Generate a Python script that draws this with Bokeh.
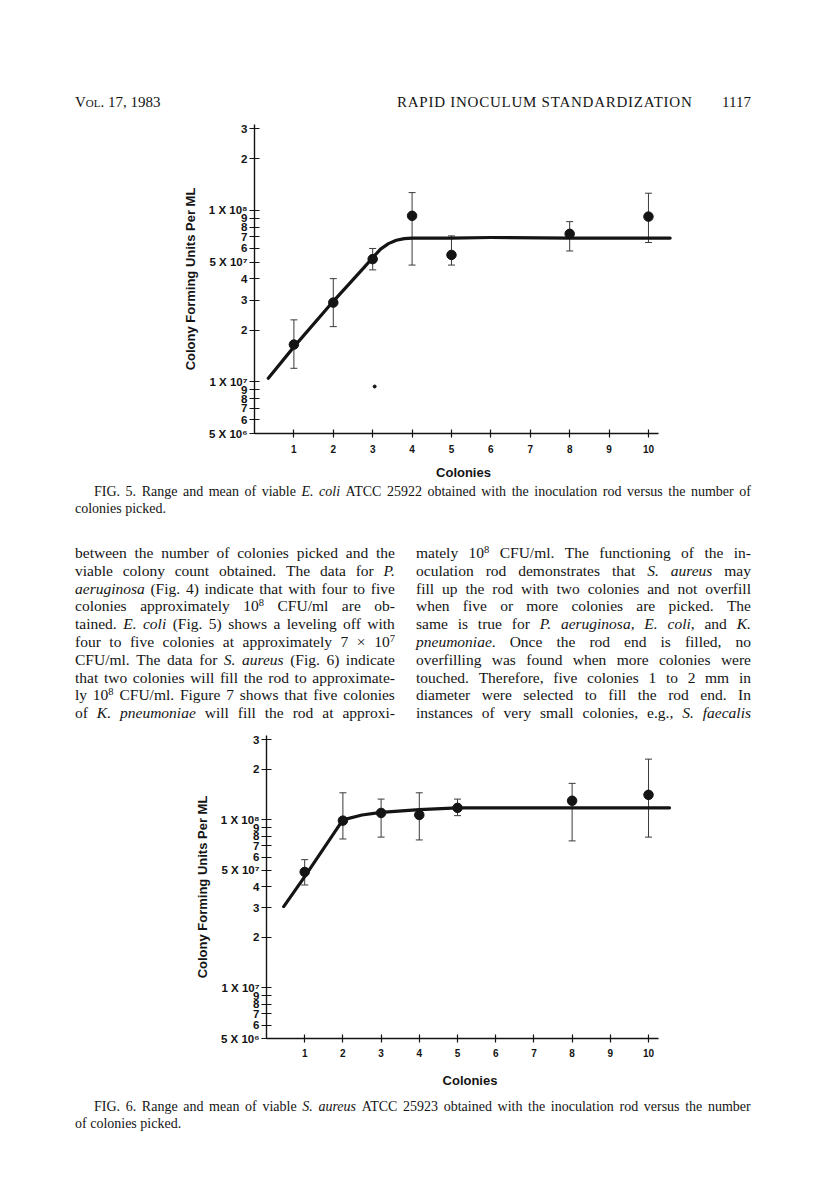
from bokeh.plotting import figure
from bokeh.layouts import column
from bokeh.models import Div, FixedTicker, Range1d, ColumnDataSource, Whisker, TeeHead
from bokeh.embed import file_html
from bokeh.resources import INLINE

# ---------------- data ----------------
colonies = [1, 2, 3, 4, 5, 8, 10]

ecoli_mean = [1.65e7, 2.9e7, 5.2e7, 9.3e7, 5.5e7, 7.3e7, 9.2e7]
ecoli_high = [2.3e7, 4.0e7, 6.0e7, 1.27e8, 7.1e7, 8.6e7, 1.26e8]
ecoli_low = [1.2e7, 2.1e7, 4.5e7, 4.8e7, 4.8e7, 5.8e7, 6.5e7]
ecoli_curve_x = [0.35, 1.0, 2.0, 2.8, 3.0, 3.2, 3.4, 3.6, 3.8, 4.0, 5.0, 6.0, 8.0, 10.55]
ecoli_curve_y = [1.05e7, 1.6e7, 2.95e7, 4.7e7, 5.3e7, 5.95e7, 6.4e7, 6.7e7, 6.85e7, 6.9e7, 6.9e7, 6.95e7, 6.9e7, 6.9e7]
speck_x = [3.05]
speck_y = [9.4e6]

saureus_mean = [4.9e7, 9.9e7, 1.1e8, 1.07e8, 1.18e8, 1.30e8, 1.41e8]
saureus_high = [5.8e7, 1.45e8, 1.33e8, 1.45e8, 1.33e8, 1.65e8, 2.3e8]
saureus_low = [4.1e7, 7.7e7, 7.9e7, 7.6e7, 1.06e8, 7.5e7, 7.9e7]
saureus_curve_x = [0.45, 1.0, 2.0, 2.5, 3.0, 4.0, 5.0, 7.0, 10.55]
saureus_curve_y = [3.05e7, 4.6e7, 1.0e8, 1.07e8, 1.11e8, 1.15e8, 1.18e8, 1.18e8, 1.18e8]

x_ticks = [1, 2, 3, 4, 5, 6, 7, 8, 9, 10]
y_ticks = [5e6, 6e6, 7e6, 8e6, 9e6, 1e7, 2e7, 3e7, 4e7, 5e7, 6e7, 7e7, 8e7, 9e7, 1e8, 2e8, 3e8]
y_tick_labels = ["5 X 10\u2076", "6", "7", "8", "9", "1 X 10\u2077", "2", "3", "4", "5 X 10\u2077",
                 "6", "7", "8", "9", "1 X 10\u2078", "2", "3"]
x_title = "Colonies"
y_title = "Colony Forming Units Per ML"

header_left = "<span style=\"font-variant:small-caps\">Vol.</span> 17, 1983"
header_mid = "RAPID INOCULUM STANDARDIZATION"
header_right = "1117"

caption1 = ["FIG. 5. Range and mean of viable <i>E.</i> <i>coli</i> ATCC 25922 obtained with the inoculation rod versus the number of",
            "colonies picked."]
caption2 = ["FIG. 6. Range and mean of viable <i>S.</i> <i>aureus</i> ATCC 25923 obtained with the inoculation rod versus the number",
            "of colonies picked."]

left_lines = [
    "between the number of colonies picked and the",
    "viable colony count obtained. The data for <i>P.</i>",
    "<i>aeruginosa</i> (Fig. 4) indicate that with four to five",
    "colonies approximately 10<sup>8</sup> CFU/ml are ob-",
    "tained. <i>E.</i> <i>coli</i> (Fig. 5) shows a leveling off with",
    "four to five colonies at approximately 7 \u00d7 10<sup>7</sup>",
    "CFU/ml. The data for <i>S.</i> <i>aureus</i> (Fig. 6) indicate",
    "that two colonies will fill the rod to approximate-",
    "ly 10<sup>8</sup> CFU/ml. Figure 7 shows that five colonies",
    "of <i>K.</i> <i>pneumoniae</i> will fill the rod at approxi-",
]
right_lines = [
    "mately 10<sup>8</sup> CFU/ml. The functioning of the in-",
    "oculation rod demonstrates that <i>S.</i> <i>aureus</i> may",
    "fill up the rod with two colonies and not overfill",
    "when five or more colonies are picked. The",
    "same is true for <i>P.</i> <i>aeruginosa,</i> <i>E.</i> <i>coli</i>, and <i>K.</i>",
    "<i>pneumoniae</i>. Once the rod end is filled, no",
    "overfilling was found when more colonies were",
    "touched. Therefore, five colonies 1 to 2 mm in",
    "diameter were selected to fill the rod end. In",
    "instances of very small colonies, e.g., <i>S.</i> <i>faecalis</i>",
]

SERIF = "'Liberation Serif', 'Times New Roman', serif"
CHART_FONT = "'Liberation Sans', Arial, sans-serif"
INK = "#141414"


def text_line(left, top, width, html, size, lh, justify=True, extra=""):
    base = (f"position:absolute;left:{left}px;top:{top}px;height:{lh}px;line-height:{lh}px;"
            f"font-family:{SERIF};font-size:{size}px;color:{INK};white-space:nowrap;{extra}")
    if justify:
        spans = "".join(f"<span>{w}</span>" for w in html.split(" "))
        return (f"<div style=\"{base}width:{width}px;display:flex;justify-content:space-between;\">"
                f"{spans}</div>")
    return f"<div style=\"{base}\">{html}</div>"


def wrap(inner, h):
    style = "<style>sup{font-size:0.68em;vertical-align:0.45em;line-height:0;}</style>"
    return f"{style}<div style=\"position:relative;width:800px;height:{h}px;\">{inner}</div>"


# ---------------- header ----------------
hA = 110
head = (text_line(67, 86, 0, header_left, 15, 17, justify=False)
        + text_line(389, 86, 0, header_mid, 15, 17, justify=False, extra="letter-spacing:0.75px;")
        + f"<div style=\"position:absolute;right:57px;top:86px;height:17px;line-height:17px;"
          f"font-family:{SERIF};font-size:15px;color:{INK};\">{header_right}</div>")
divA = Div(text=wrap(head, hA), width=800, height=hA, margin=(0, 0, 0, 0))


# ---------------- charts ----------------
def make_chart(height, mtop, mbot, mleft, mright, xend, yend, mean, high, low, cx, cy,
               tick_standoff, lab_standoff):
    p = figure(width=800, height=height, x_range=Range1d(0, xend), y_range=Range1d(5e6, yend),
               y_axis_type="log", output_backend="svg", toolbar_location=None,
               min_border_top=mtop, min_border_bottom=mbot, min_border_left=mleft,
               min_border_right=mright, margin=(0, 0, 0, 0))
    p.frame_align = False
    p.outline_line_color = None
    p.xgrid.grid_line_color = None
    p.ygrid.grid_line_color = None
    p.background_fill_color = "white"
    p.border_fill_color = "white"

    p.line(cx, cy, line_width=3.2, color=INK, line_cap="round", line_join="round")
    src = ColumnDataSource(dict(x=colonies, mean=mean, hi=high, lo=low))
    p.add_layout(Whisker(source=src, base="x", upper="hi", lower="lo",
                         line_color="#3a3a3a", line_width=1,
                         upper_head=TeeHead(size=7, line_color="#3a3a3a", line_width=1),
                         lower_head=TeeHead(size=7, line_color="#3a3a3a", line_width=1)))
    p.scatter("x", "mean", source=src, size=9.5, color=INK)

    xa = p.xaxis[0]
    xa.ticker = FixedTicker(ticks=x_ticks)
    xa.bounds = (0, 10.25)
    xa.axis_label = x_title
    xa.axis_label_text_font = CHART_FONT
    xa.axis_label_text_font_style = "bold"
    xa.axis_label_text_font_size = "13px"
    xa.axis_label_text_color = INK
    xa.axis_label_standoff = lab_standoff
    xa.major_label_text_font = CHART_FONT
    xa.major_label_text_font_style = "bold"
    xa.major_label_text_font_size = "10px"
    xa.major_label_text_color = INK
    xa.major_label_standoff = tick_standoff
    xa.major_tick_in = 4
    xa.major_tick_out = 4
    xa.minor_tick_line_color = None
    xa.axis_line_width = 1.4
    xa.axis_line_color = INK
    xa.major_tick_line_color = INK
    xa.major_tick_line_width = 1.2

    ya = p.yaxis[0]
    ya.ticker = FixedTicker(ticks=y_ticks)
    ya.major_label_overrides = dict(zip(y_ticks, y_tick_labels))
    ya.axis_label = y_title
    ya.axis_label_text_font = CHART_FONT
    ya.axis_label_text_font_style = "bold"
    ya.axis_label_text_font_size = "13px"
    ya.axis_label_text_color = INK
    ya.axis_label_standoff = 8
    ya.major_label_text_font = CHART_FONT
    ya.major_label_text_font_style = "bold"
    ya.major_label_text_font_size = "11.5px"
    ya.major_label_text_color = INK
    ya.major_label_standoff = 2
    ya.major_tick_in = 5
    ya.major_tick_out = 5
    ya.minor_tick_line_color = None
    ya.axis_line_width = 1.4
    ya.axis_line_color = INK
    ya.major_tick_line_color = INK
    ya.major_tick_line_width = 1.2
    return p


p1 = make_chart(364, 6, 48, 246, 136, 10.61, 3.17e8,
                ecoli_mean, ecoli_high, ecoli_low, ecoli_curve_x, ecoli_curve_y, 7, 9)
p1.scatter(speck_x, speck_y, size=3, color=INK)

# ---------------- caption 1 + body ----------------
hB = 243
body = text_line(86, 2, 657, caption1[0], 14, 16) + text_line(67, 19, 0, caption1[1], 14, 16, justify=False)
for i, ln in enumerate(left_lines):
    body += text_line(67, round(62 + 17.8 * i, 1), 320, ln, 15.5, 18)
for i, ln in enumerate(right_lines):
    body += text_line(408, round(62 + 17.8 * i, 1), 335, ln, 15.5, 18)
divB = Div(text=wrap(body, hB), width=800, height=hB, margin=(0, 0, 0, 0))

p2 = make_chart(365, 10, 52, 258, 135, 10.654, 3.18e8,
                saureus_mean, saureus_high, saureus_low, saureus_curve_x, saureus_curve_y, 6, 13)

# ---------------- caption 2 ----------------
hC = 103
cap = text_line(86, 9, 657, caption2[0], 14, 16) + text_line(67, 26, 0, caption2[1], 14, 16, justify=False)
divC = Div(text=wrap(cap, hC), width=800, height=hC, margin=(0, 0, 0, 0))

layout = column(divA, p1, divB, p2, divC, spacing=0, margin=(8, 0, 0, 8))
open("out.html", "w").write(file_html(layout, INLINE))
